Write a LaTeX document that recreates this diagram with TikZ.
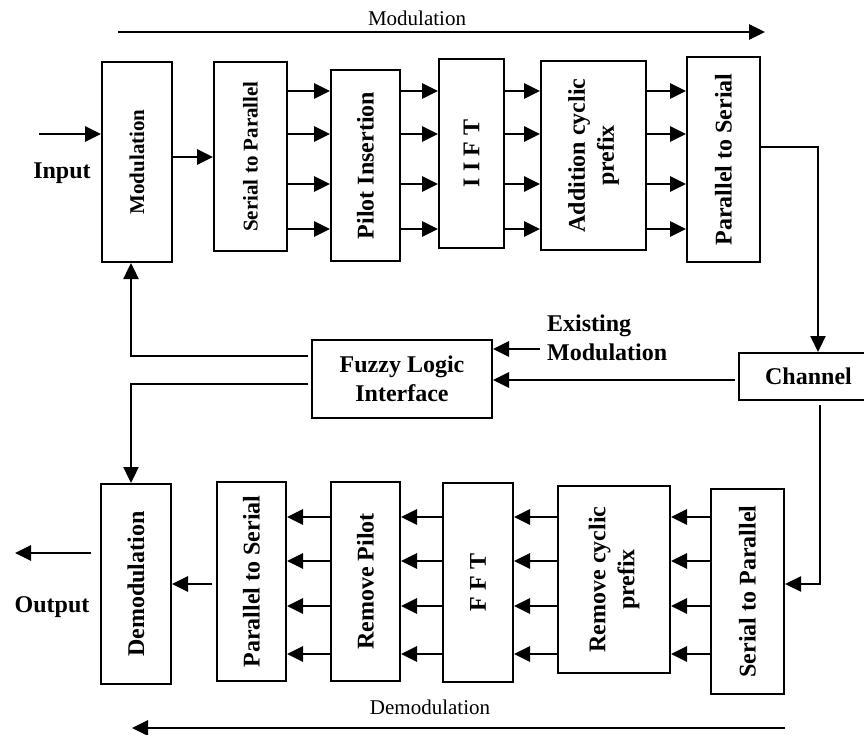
\documentclass[tikz,border=0pt]{standalone}
\usepackage{fontspec}
\setmainfont{Liberation Serif}
\usetikzlibrary{arrows.meta,calc}

\begin{document}
\begin{tikzpicture}[x=1pt, y=-1pt,
        box/.style={draw, line width=2pt, inner sep=0pt, font=\bfseries\fontsize{24}{29}\selectfont},
        small/.style={font=\bfseries\fontsize{21}{25}\selectfont},
        arr/.style={line width=2.8pt, -{Triangle[length=16pt,width=15pt]}},
        lbl/.style={inner sep=0pt, align=left, font=\bfseries\fontsize{24}{29}\selectfont},
        note/.style={inner sep=0pt, font=\fontsize{21}{25}\selectfont}]
    \useasboundingbox (0,0) rectangle (864,735);

    % transmitter chain
    \node[box, small, minimum width=70pt, minimum height=200pt] (mod) at (137,162) {\rotatebox{90}{Modulation}};
    \node[box, small, minimum width=73pt, minimum height=189pt] (sp) at (250.5,156.5) {\rotatebox{90}{Serial to Parallel}};
    \node[box, minimum width=69pt, minimum height=191pt] (pilot) at (365.5,165.5) {\rotatebox{90}{Pilot Insertion}};
    \node[box, minimum width=65pt, minimum height=189pt] (ifft) at (471.5,153.5) {\rotatebox{90}{I I F T}};
    \node[box, minimum width=105pt, minimum height=189pt] (acp) at (593.5,155.5) {\rotatebox{90}{\begin{tabular}{@{}c@{}}Addition cyclic\\prefix\end{tabular}}};
    \node[box, minimum width=73pt, minimum height=205pt] (ps) at (723.5,159.5) {\rotatebox{90}{Parallel to Serial}};

    % channel and controller
    \node[box, minimum width=139pt, minimum height=47pt] (chan) at (808.5,376.5) {Channel};
    \node[box, align=center, minimum width=180pt, minimum height=78pt] (fuzzy) at (402,379) {Fuzzy Logic\\Interface};

    % receiver chain
    \node[box, minimum width=70pt, minimum height=200pt] (demod) at (136,584) {\rotatebox{90}{Demodulation}};
    \node[box, minimum width=69pt, minimum height=199pt] (ps2) at (251.5,581.5) {\rotatebox{90}{Parallel to Serial}};
    \node[box, minimum width=69pt, minimum height=199pt] (rmpilot) at (365.5,581.5) {\rotatebox{90}{Remove Pilot}};
    \node[box, minimum width=70pt, minimum height=199pt] (fft) at (478,582.5) {\rotatebox{90}{F F T}};
    \node[box, minimum width=112pt, minimum height=187pt] (rmcp) at (614,579.5) {\rotatebox{90}{\begin{tabular}{@{}c@{}}Remove cyclic\\prefix\end{tabular}}};
    \node[box, minimum width=73pt, minimum height=205pt] (sp2) at (747.5,591.5) {\rotatebox{90}{Serial to Parallel}};

    % parallel lines
    \foreach \y [count=\i] in {91,134,184,229} \coordinate (t\i) at (0,\y);
    \foreach \y [count=\i] in {517,561,606,654} \coordinate (b\i) at (0,\y);
    \foreach \a/\b in {sp/pilot, pilot/ifft, ifft/acp, acp/ps}
        \foreach \i in {1,...,4}
            \draw[arr] (\a.east |- t\i) -- (\b.west |- t\i);
    \foreach \a/\b in {sp2/rmcp, rmcp/fft, fft/rmpilot, rmpilot/ps2}
        \foreach \i in {1,...,4}
            \draw[arr] (\a.west |- b\i) -- (\b.east |- b\i);

    % input and output
    \coordinate (in) at (39,134);
    \draw[arr] (in) -- (in -| mod.west);
    \node[lbl] (inlbl) at (62,173) {Input};
    \draw[arr] ([yshift=5pt]mod.east) -- ([yshift=5pt]mod.east -| sp.west);
    \coordinate (out) at (15,553);
    \draw[arr] ([xshift=-9pt]demod.west |- out) -- (out);
    \node[lbl] (outlbl) at (52,607) {Output};
    \coordinate (d1) at (0,584);
    \draw[arr] ([xshift=-4pt]ps2.west |- d1) -- (demod.east |- d1);

    % channel links
    \coordinate (c1) at (818,147);
    \draw[arr, line width=2.2pt] (ps.east |- c1) -| (c1 |- chan.north);
    \coordinate (c2) at (820,584);
    \draw[arr, line width=2.2pt] ([yshift=-4pt]c2 |- chan.south) |- (sp2.east |- c2);
    \coordinate (c3) at (0,380);
    \draw[arr] ([xshift=-3pt]chan.west |- c3) -- (fuzzy.east |- c3);
    \coordinate (ex) at (540,349);
    \draw[arr] (ex) -- (fuzzy.east |- ex);
    \node[lbl, anchor=west] (exlbl) at (547,337.5) {Existing\\Modulation};

    % feedback from fuzzy logic
    \coordinate (f1) at (131,356);
    \draw[arr, line width=2.4pt] ([xshift=-3pt]fuzzy.west |- f1) -| (f1 |- mod.south);
    \coordinate (f2) at (131,384);
    \draw[arr, line width=2.4pt] ([xshift=-3pt]fuzzy.west |- f2) -| (f2 |- demod.north);

    % direction arrows
    \coordinate (m1) at (118,32);
    \coordinate (m2) at (765,32);
    \draw[arr] (m1) -- (m2);
    \node[note] (modlbl) at (417,18) {Modulation};
    \coordinate (m3) at (785,728);
    \coordinate (m4) at (132,728);
    \draw[arr] (m3) -- (m4);
    \node[note] (demodlbl) at (430,707) {Demodulation};
\end{tikzpicture}
\end{document}
